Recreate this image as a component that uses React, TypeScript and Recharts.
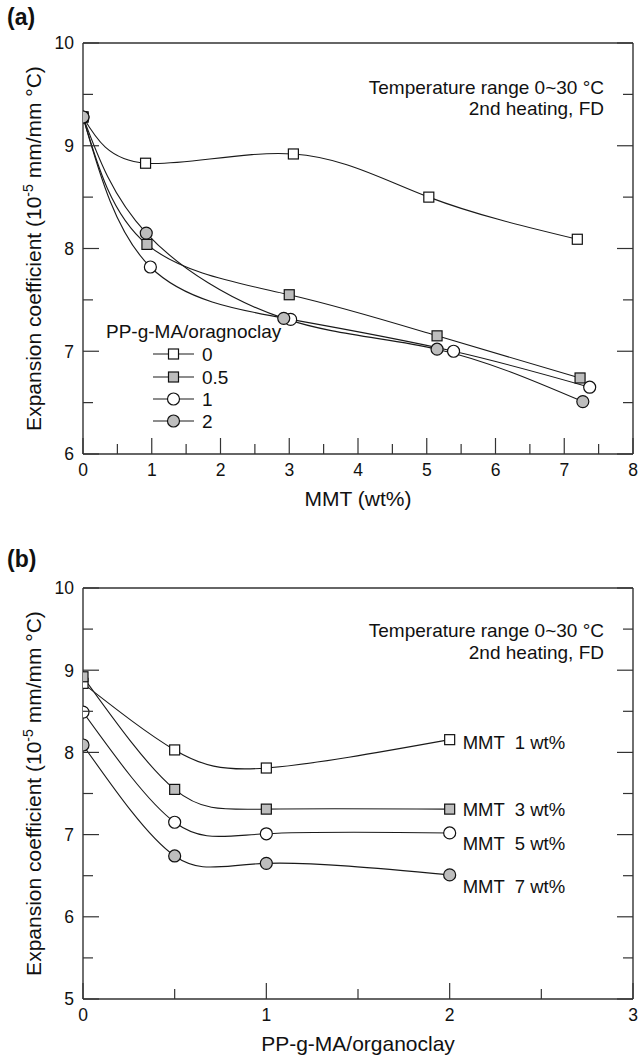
import React from 'react';
import { LineChart, Line, XAxis, YAxis } from 'recharts';

const FONT = '"Liberation Sans", Arial, Helvetica, sans-serif';
const INK = '#1a1a1a';
const FRAME = '#333333';
const GRAY = '#bdbdbd';

// ---------- Panel (a): expansion coefficient vs MMT content ----------
const mmtTicks = [0, 0.5, 1, 1.5, 2, 2.5, 3, 3.5, 4, 4.5, 5, 5.5, 6, 6.5, 7, 7.5, 8];
const coefTicksA = [6, 6.5, 7, 7.5, 8, 8.5, 9, 9.5, 10];
const ratio0 = [
  { x: 0, y: 9.28 }, { x: 0.91, y: 8.83 }, { x: 3.06, y: 8.92 }, { x: 5.03, y: 8.5 }, { x: 7.19, y: 8.09 },
];
const ratio05 = [
  { x: 0, y: 9.28 }, { x: 0.93, y: 8.04 }, { x: 3.0, y: 7.55 }, { x: 5.15, y: 7.15 }, { x: 7.23, y: 6.74 },
];
const ratio1 = [
  { x: 0, y: 9.28 }, { x: 0.98, y: 7.82 }, { x: 3.02, y: 7.31 }, { x: 5.39, y: 7.0 }, { x: 7.37, y: 6.65 },
];
const ratio2 = [
  { x: 0, y: 9.28 }, { x: 0.92, y: 8.15 }, { x: 2.92, y: 7.32 }, { x: 5.15, y: 7.02 }, { x: 7.27, y: 6.51 },
];
const legendTitleA = 'PP-g-MA/oragnoclay';
const seriesNamesA = ['0', '0.5', '1', '2'];

// ---------- Panel (b): expansion coefficient vs PP-g-MA/organoclay ----------
const ratioTicks = [0, 0.5, 1, 1.5, 2, 2.5, 3];
const coefTicksB = [5, 5.5, 6, 6.5, 7, 7.5, 8, 8.5, 9, 9.5, 10];
const mmt1 = [{ x: 0, y: 8.84 }, { x: 0.5, y: 8.03 }, { x: 1, y: 7.81 }, { x: 2, y: 8.155 }];
const mmt3 = [{ x: 0, y: 8.92 }, { x: 0.5, y: 7.55 }, { x: 1, y: 7.31 }, { x: 2, y: 7.31 }];
const mmt5 = [{ x: 0, y: 8.49 }, { x: 0.5, y: 7.15 }, { x: 1, y: 7.01 }, { x: 2, y: 7.02 }];
const mmt7 = [{ x: 0, y: 8.09 }, { x: 0.5, y: 6.74 }, { x: 1, y: 6.65 }, { x: 2, y: 6.51 }];
const seriesNamesB = ['MMT  1 wt%', 'MMT  3 wt%', 'MMT  5 wt%', 'MMT  7 wt%'];

const annotLine1 = 'Temperature range 0~30 °C';
const annotLine2 = '2nd heating, FD';

// styles (kept apart from the data)
type Shape = 'square' | 'circle';
const stylesA: { shape: Shape; fill: string }[] = [
  { shape: 'square', fill: '#ffffff' },
  { shape: 'square', fill: GRAY },
  { shape: 'circle', fill: '#ffffff' },
  { shape: 'circle', fill: GRAY },
];
const stylesB: { shape: Shape; fill: string; labelDy: number }[] = [
  { shape: 'square', fill: '#ffffff', labelDy: 3 },
  { shape: 'square', fill: GRAY, labelDy: 0 },
  { shape: 'circle', fill: '#ffffff', labelDy: 11 },
  { shape: 'circle', fill: GRAY, labelDy: 12 },
];

function Marker({ cx, cy, shape, fill }: { cx: number; cy: number; shape: Shape; fill: string }) {
  if (shape === 'square') {
    return <rect x={cx - 5} y={cy - 5} width={10} height={10} fill={fill} stroke="#111" strokeWidth={1.2} />;
  }
  return <circle cx={cx} cy={cy} r={6} fill={fill} stroke="#111" strokeWidth={1.2} />;
}

function AxisTick(props: any) {
  const { x, y, payload, side, showLabel } = props;
  const v = Number(payload.value);
  const major = Math.abs(v - Math.round(v)) < 1e-9;
  const len = major ? 16 : 10;
  let ln: React.ReactNode = null;
  let lbl: React.ReactNode = null;
  if (side === 'bottom') {
    ln = <line x1={x} y1={y} x2={x} y2={y - len} stroke={FRAME} strokeWidth={1.2} />;
    if (showLabel && major)
      lbl = (
        <text x={x} y={y + 22} textAnchor="middle" fontSize={17.5} fontFamily={FONT} fill="#111">
          {String(v)}
        </text>
      );
  } else if (side === 'top') {
    ln = <line x1={x} y1={y} x2={x} y2={y + len} stroke={FRAME} strokeWidth={1.2} />;
  } else if (side === 'left') {
    ln = <line x1={x} y1={y} x2={x + len} y2={y} stroke={FRAME} strokeWidth={1.2} />;
    if (showLabel && major)
      lbl = (
        <text x={x - 9} y={y + 6.3} textAnchor="end" fontSize={17.5} fontFamily={FONT} fill="#111">
          {String(v)}
        </text>
      );
  } else {
    ln = <line x1={x} y1={y} x2={x - len} y2={y} stroke={FRAME} strokeWidth={1.2} />;
  }
  return (
    <g>
      {ln}
      {lbl}
    </g>
  );
}

function YLabel(props: any) {
  const vb = props.viewBox || { x: 0, y: 0, width: 0, height: 0 };
  const cx = vb.x + 41;
  const cy = vb.y + vb.height / 2;
  return (
    <text
      x={cx}
      y={cy}
      transform={`rotate(-90 ${cx} ${cy})`}
      textAnchor="middle"
      fontSize={21}
      fontFamily={FONT}
      fill="#111"
    >
      Expansion coefficient (10
      <tspan dy={-8} fontSize={14}>
        -5
      </tspan>
      <tspan dy={8}> mm/mm °C)</tspan>
    </text>
  );
}

function XLabel(props: any) {
  const vb = props.viewBox || { x: 0, y: 0, width: 0, height: 0 };
  return (
    <text x={vb.x + vb.width / 2} y={vb.y + 52} textAnchor="middle" fontSize={21} fontFamily={FONT} fill="#111">
      {props.text}
    </text>
  );
}

const axisLineStyle = { stroke: FRAME, strokeWidth: 1.4 };

function Frame({
  xTicks,
  yTicks,
  xDomain,
  yDomain,
  xTitle,
  xHeight,
}: {
  xTicks: number[];
  yTicks: number[];
  xDomain: [number, number];
  yDomain: [number, number];
  xTitle: string;
  xHeight: number;
}) {
  return null;
}

const seriesA = [ratio0, ratio05, ratio1, ratio2];
const seriesB = [mmt1, mmt3, mmt5, mmt7];

function ChartA() {
  return (
    <LineChart width={638} height={530} margin={{ top: 42, right: 4, bottom: 0, left: 0 }}>
      <XAxis
        type="number"
        dataKey="x"
        domain={[0, 8]}
        ticks={mmtTicks}
        interval={0}
        height={76}
        tickSize={0}
        tickMargin={0}
        tickLine={false}
        axisLine={axisLineStyle}
        allowDataOverflow
        tick={<AxisTick side="bottom" showLabel />}
        label={<XLabel text="MMT (wt%)" />}
      />
      <XAxis
        xAxisId="top"
        orientation="top"
        type="number"
        domain={[0, 8]}
        ticks={mmtTicks}
        interval={0}
        height={1}
        tickSize={0}
        tickMargin={0}
        tickLine={false}
        axisLine={axisLineStyle}
        allowDataOverflow
        tick={<AxisTick side="top" />}
      />
      <YAxis
        type="number"
        domain={[6, 10]}
        ticks={coefTicksA}
        interval={0}
        width={83}
        tickSize={0}
        tickMargin={0}
        tickLine={false}
        axisLine={axisLineStyle}
        allowDataOverflow
        tick={<AxisTick side="left" showLabel />}
        label={<YLabel />}
      />
      <YAxis
        yAxisId="right"
        orientation="right"
        type="number"
        domain={[6, 10]}
        ticks={coefTicksA}
        interval={0}
        width={1}
        tickSize={0}
        tickMargin={0}
        tickLine={false}
        axisLine={axisLineStyle}
        allowDataOverflow
        tick={<AxisTick side="right" />}
      />
      {seriesA.map((d, i) => (
        <Line
          key={seriesNamesA[i]}
          name={seriesNamesA[i]}
          data={d}
          dataKey="y"
          type="natural"
          stroke={INK}
          strokeWidth={1.1}
          isAnimationActive={false}
          dot={(p: any) => (
            <Marker key={`a${i}-${p.index}`} cx={p.cx} cy={p.cy} shape={stylesA[i].shape} fill={stylesA[i].fill} />
          )}
          activeDot={false}
        />
      ))}
    </LineChart>
  );
}

function ChartB() {
  return (
    <LineChart width={638} height={531} margin={{ top: 57, right: 4, bottom: 0, left: 0 }}>
      <XAxis
        type="number"
        dataKey="x"
        domain={[0, 3]}
        ticks={ratioTicks}
        interval={0}
        height={62}
        tickSize={0}
        tickMargin={0}
        tickLine={false}
        axisLine={axisLineStyle}
        allowDataOverflow
        tick={<AxisTick side="bottom" showLabel />}
        label={<XLabel text="PP-g-MA/organoclay" />}
      />
      <XAxis
        xAxisId="top"
        orientation="top"
        type="number"
        domain={[0, 3]}
        ticks={ratioTicks}
        interval={0}
        height={1}
        tickSize={0}
        tickMargin={0}
        tickLine={false}
        axisLine={axisLineStyle}
        allowDataOverflow
        tick={<AxisTick side="top" />}
      />
      <YAxis
        type="number"
        domain={[5, 10]}
        ticks={coefTicksB}
        interval={0}
        width={83}
        tickSize={0}
        tickMargin={0}
        tickLine={false}
        axisLine={axisLineStyle}
        allowDataOverflow
        tick={<AxisTick side="left" showLabel />}
        label={<YLabel />}
      />
      <YAxis
        yAxisId="right"
        orientation="right"
        type="number"
        domain={[5, 10]}
        ticks={coefTicksB}
        interval={0}
        width={1}
        tickSize={0}
        tickMargin={0}
        tickLine={false}
        axisLine={axisLineStyle}
        allowDataOverflow
        tick={<AxisTick side="right" />}
      />
      {seriesB.map((d, i) => (
        <Line
          key={seriesNamesB[i]}
          name={seriesNamesB[i]}
          data={d}
          dataKey="y"
          type="natural"
          stroke={INK}
          strokeWidth={1.1}
          isAnimationActive={false}
          activeDot={false}
          dot={(p: any) => (
            <g key={`b${i}-${p.index}`}>
              <Marker cx={p.cx} cy={p.cy} shape={stylesB[i].shape} fill={stylesB[i].fill} />
              {p.index === d.length - 1 ? (
                <text
                  x={p.cx + 13}
                  y={p.cy + stylesB[i].labelDy + 6.5}
                  fontSize={18.5}
                  fontFamily={FONT}
                  fill="#111"
                  style={{ whiteSpace: 'pre' }}
                >
                  {seriesNamesB[i]}
                </text>
              ) : null}
            </g>
          )}
        />
      ))}
    </LineChart>
  );
}

function Overlay() {
  const rowsY = [36, 59, 81, 103];
  return (
    <svg
      width={638}
      height={1061}
      style={{ position: 'absolute', left: 0, top: 0, pointerEvents: 'none' }}
      fontFamily={FONT}
    >
      <text x={7} y={25} fontSize={23} fontWeight="bold" fill="#111">
        (a)
      </text>
      <text x={7} y={567} fontSize={23} fontWeight="bold" fill="#111">
        (b)
      </text>
      <text x={604} y={94} textAnchor="end" fontSize={19} fill="#111">
        {annotLine1}
      </text>
      <text x={604} y={115} textAnchor="end" fontSize={19} fill="#111">
        {annotLine2}
      </text>
      <text x={604} y={637} textAnchor="end" fontSize={19} fill="#111">
        {annotLine1}
      </text>
      <text x={604} y={659} textAnchor="end" fontSize={19} fill="#111">
        {annotLine2}
      </text>
      <g transform="translate(100,318)">
        <text x={6} y={20} fontSize={19} fill="#111">
          {legendTitleA}
        </text>
        {seriesNamesA.map((n, i) => (
          <g key={n}>
            <line x1={53} y1={rowsY[i]} x2={94} y2={rowsY[i]} stroke={INK} strokeWidth={1.1} />
            <Marker cx={73.5} cy={rowsY[i]} shape={stylesA[i].shape} fill={stylesA[i].fill} />
            <text x={102} y={rowsY[i] + 6.5} fontSize={19} fill="#111">
              {n}
            </text>
          </g>
        ))}
      </g>
    </svg>
  );
}

export default function App() {
  return (
    <div style={{ position: 'absolute', left: 0, top: 0, width: 638, height: 1061, background: '#fff' }}>
      <div style={{ position: 'absolute', left: 0, top: 0 }}>
        <ChartA />
      </div>
      <div style={{ position: 'absolute', left: 0, top: 530 }}>
        <ChartB />
      </div>
      <Overlay />
    </div>
  );
}
